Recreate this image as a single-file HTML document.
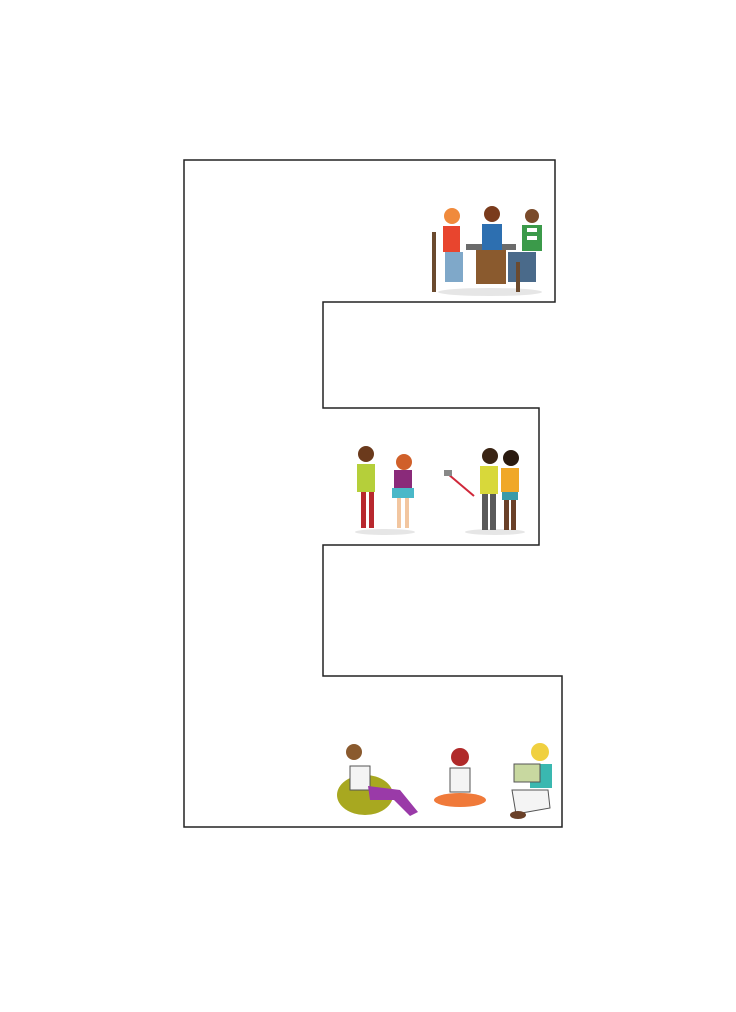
<!DOCTYPE html>
<html><head><meta charset="utf-8"><style>
html,body{margin:0;padding:0;background:#fff;}
svg{display:block;}
</style></head><body>
<svg width="736" height="1012" viewBox="0 0 736 1012" xmlns="http://www.w3.org/2000/svg">
<rect width="736" height="1012" fill="#fff"/>
<polygon points="184,160 555,160 555,302 323,302 323,408 539,408 539,545 323,545 323,676 562,676 562,827 184,827" fill="#fff" stroke="#222" stroke-width="1.5"/>

<!-- top group: people at table -->
<g>
<ellipse cx="490" cy="292" rx="52" ry="4" fill="#e6e6e6"/>
<rect x="432" y="232" width="4" height="60" fill="#6b4a2e"/>
<rect x="466" y="244" width="50" height="6" fill="#6b6b6b"/>
<circle cx="452" cy="216" r="8" fill="#f08a3c"/>
<rect x="443" y="226" width="17" height="26" fill="#e8452e"/>
<rect x="445" y="252" width="18" height="30" fill="#7fa8c9"/>
<circle cx="492" cy="214" r="8" fill="#7a3b1c"/>
<rect x="482" y="224" width="20" height="26" fill="#2d6fb0"/>
<rect x="476" y="250" width="30" height="34" fill="#8a5a2e"/>
<circle cx="532" cy="216" r="7" fill="#7a4a2a"/>
<rect x="522" y="225" width="20" height="26" fill="#3b9a4a"/>
<rect x="527" y="228" width="10" height="4" fill="#fff"/>
<rect x="527" y="236" width="10" height="4" fill="#fff"/>
<rect x="508" y="252" width="28" height="30" fill="#4a6a8a"/>
<rect x="516" y="262" width="4" height="30" fill="#6b4a2e"/>
</g>

<!-- middle group -->
<g>
<ellipse cx="385" cy="532" rx="30" ry="3" fill="#e6e6e6"/>
<ellipse cx="495" cy="532" rx="30" ry="3" fill="#e6e6e6"/>
<circle cx="366" cy="454" r="8" fill="#6b3a1c"/>
<rect x="357" y="464" width="18" height="28" fill="#b5cf3a"/>
<rect x="361" y="492" width="5" height="36" fill="#b8282e"/>
<rect x="369" y="492" width="5" height="36" fill="#b8282e"/>
<circle cx="404" cy="462" r="8" fill="#d0602a"/>
<rect x="394" y="470" width="18" height="20" fill="#8a2a7a"/>
<rect x="392" y="488" width="22" height="10" fill="#4ab8c8"/>
<rect x="397" y="498" width="4" height="30" fill="#f2c6a0"/>
<rect x="405" y="498" width="4" height="30" fill="#f2c6a0"/>
<line x1="448" y1="474" x2="474" y2="496" stroke="#d0283a" stroke-width="2"/>
<rect x="444" y="470" width="8" height="6" fill="#888"/>
<circle cx="490" cy="456" r="8" fill="#3a2414"/>
<rect x="480" y="466" width="18" height="28" fill="#d8d83a"/>
<rect x="482" y="494" width="6" height="36" fill="#5a5a5a"/>
<rect x="490" y="494" width="6" height="36" fill="#5a5a5a"/>
<circle cx="511" cy="458" r="8" fill="#2a1a10"/>
<rect x="501" y="468" width="18" height="24" fill="#f0a828"/>
<rect x="502" y="492" width="16" height="8" fill="#3a9aa8"/>
<rect x="504" y="500" width="5" height="30" fill="#6a4028"/>
<rect x="511" y="500" width="5" height="30" fill="#6a4028"/>
</g>

<!-- bottom group -->
<g>
<ellipse cx="365" cy="795" rx="28" ry="20" fill="#a8a820"/>
<circle cx="354" cy="752" r="8" fill="#8a5a2e"/>
<rect x="350" y="766" width="20" height="24" fill="#f4f4f4" stroke="#555" stroke-width="1"/>
<polygon points="368,786 400,790 418,812 410,816 394,800 370,800" fill="#9a3aa8"/>
<circle cx="460" cy="757" r="9" fill="#b02a2a"/>
<rect x="450" y="768" width="20" height="24" fill="#f4f4f4" stroke="#555" stroke-width="1"/>
<ellipse cx="460" cy="800" rx="26" ry="7" fill="#f07a3a"/>
<circle cx="540" cy="752" r="9" fill="#f0d040"/>
<rect x="530" y="764" width="22" height="24" fill="#3ab8b0"/>
<rect x="514" y="764" width="26" height="18" fill="#c8d8a0" stroke="#555" stroke-width="1"/>
<polygon points="512,790 548,790 550,808 516,814" fill="#f4f4f4" stroke="#555" stroke-width="1"/>
<ellipse cx="518" cy="815" rx="8" ry="4" fill="#6a4028"/>
</g>
</svg>
</body></html>
